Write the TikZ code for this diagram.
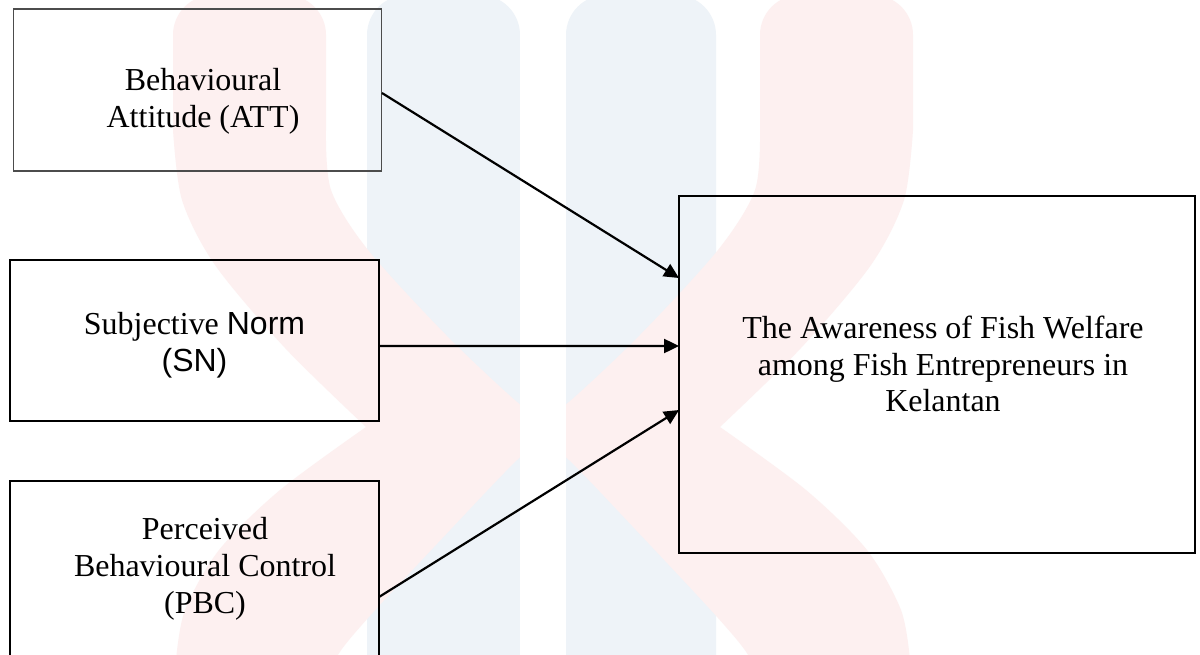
\documentclass[tikz,border=0pt]{standalone}
\usepackage{fontspec}
\setmainfont{Liberation Serif}
\newfontfamily\arialfont{Liberation Sans}
\usetikzlibrary{arrows.meta}
\definecolor{wmblue}{HTML}{EEF3F8}
\definecolor{wmpink}{HTML}{FDF0F0}
\tikzset{
  boxthin/.style={draw=black!70, line width=0.6pt, inner sep=0pt, outer sep=0pt},
  boxthick/.style={draw=black, line width=1.2pt, inner sep=0pt, outer sep=0pt},
  label text/.style={align=center, inner sep=0pt, font=\fontsize{18.2}{21}\selectfont},
  arr/.style={draw=black, line width=1.25pt, -{Triangle[length=0.3cm,width=0.28cm]}}
}
\begin{document}
\begin{tikzpicture}[x=0.02cm,y=-0.02cm]
\useasboundingbox (0,0) rectangle (1200,655);
\clip (0,0) rectangle (1200,655);
\fill[white] (0,0) rectangle (1200,655);
% watermark
\fill[wmblue, rounded corners=0.8cm] (367,-5) rectangle (520,720);
\fill[wmblue, rounded corners=0.8cm] (566,-5) rectangle (716,720);
\fill[wmpink]
  (173,35) -- (173,130)
  -- plot[smooth] coordinates {(173,130) (182,200) (215,265) (285,348) (366,427)}
  -- plot[smooth] coordinates {(366,427) (280,490) (219,550) (185,610) (176,660)}
  -- (176,720) -- (326,720)
  -- plot[smooth] coordinates {(326,700) (335,660) (368,618) (450,530) (517,460) (543,442)}
  -- plot[smooth] coordinates {(543,442) (569,460) (636,530) (718,618) (751,660) (760,700)}
  -- (760,720) -- (910,720)
  -- plot[smooth] coordinates {(910,660) (901,610) (867,550) (806,490) (720,427)}
  -- plot[smooth] coordinates {(720,427) (801,348) (871,265) (904,200) (913,130)}
  -- (913,35) to[out=90,in=0] (873,-5) -- (800,-5) to[out=180,in=90] (760,35)
  -- plot[smooth] coordinates {(760,130) (755,190) (718,250) (640,335) (569,402) (543,418)}
  -- plot[smooth] coordinates {(543,418) (517,402) (446,335) (368,250) (331,190) (326,130)}
  -- (326,35) to[out=90,in=0] (286,-5) -- (213,-5) to[out=180,in=90] (173,35) -- cycle;
\fill[white] (520,-5) rectangle (566,720);
% boxes
\node[boxthin, minimum width=7.38cm, minimum height=3.24cm] (att) at (197.5,90) {};
\node[boxthick, minimum width=7.38cm, minimum height=3.22cm] (sn) at (194.5,340.5) {};
\node[boxthick, minimum width=7.38cm, minimum height=6cm] (pbc) at (194.5,631) {};
\node[boxthick, minimum width=10.32cm, minimum height=7.14cm] (tgt) at (937,374.5) {};
% texts
\node[label text] (atttext) at (203,101) {Behavioural\\Attitude (ATT)};
\node[label text] (sntext) at (194.5,345) {Subjective {\arialfont Norm}\\{\arialfont (SN)}};
\node[label text] (pbctext) at (205,569) {Perceived\\Behavioural Control\\(PBC)};
\node[label text] (tgttext) at (943,364) {The Awareness of Fish Welfare\\among Fish Entrepreneurs in\\Kelantan};
% connectors
\draw[arr] ([yshift=-0.06cm]att.east) -- ([yshift=1.93cm]tgt.west);
\draw[arr] ([yshift=-0.11cm]sn.east) -- ([yshift=0.57cm]tgt.west);
\draw[arr] ([yshift=0.68cm]pbc.east) -- ([yshift=-0.71cm]tgt.west);
\end{tikzpicture}
\end{document}
